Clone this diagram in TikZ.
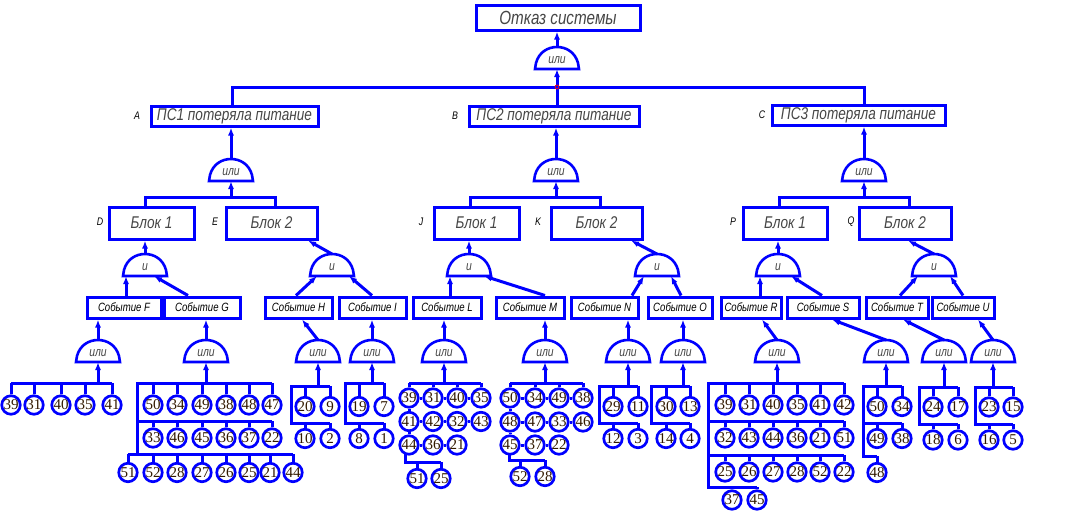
\documentclass[tikz,border=0pt]{standalone}
\usepackage{fontspec}
\setmainfont{Liberation Serif}
\newfontfamily\gost[FakeStretch=0.8]{Liberation Sans}
\usetikzlibrary{arrows.meta}
\definecolor{fb}{RGB}{0,0,255}
\definecolor{tg}{RGB}{70,70,70}
\definecolor{nb}{RGB}{50,25,0}
\newcommand\evrow[4]{\foreach \n/\x in {#4}{\node[ev] (#1\n) at (\x,#3) {\n}; \draw[ln] (#1\n.north) -- (\x,#2);}}
\begin{document}
\begin{tikzpicture}[x=1pt,y=-1pt,
 ln/.style={draw=fb,line width=3pt},
 arr/.style={ln,-{Latex[length=8pt,width=6pt]}},
 box/.style={draw=fb,line width=3pt,fill=white,inner sep=0pt,text=tg,font=\gost\itshape\fontsize{17}{20}\selectfont},
 ebox/.style={draw=fb,line width=3pt,fill=white,inner sep=0pt,minimum height=21pt,text=black,font=\gost\itshape\fontsize{12}{14}\selectfont},
 ev/.style={circle,draw=fb,line width=2.7pt,fill=white,minimum size=18.5pt,inner sep=0pt,text=nb,font=\fontsize{15}{15}\selectfont},
 lbl/.style={text=black,font=\gost\itshape\fontsize{11}{12}\selectfont},
 gate/.pic={\draw[draw=fb,line width=2.6pt,fill=white] (-22,0) -- (-21,-6) .. controls (-18,-17) and (-9,-22) .. (0,-22) .. controls (9,-22) and (18,-17) .. (21,-6) -- (22,0) -- cycle;
   \node[text=tg,font=\gost\itshape\fontsize{13}{14}\selectfont] (-x) at (0,-9) {#1};
   \coordinate (-t) at (0,-22); \coordinate (-b) at (0,0);}
]
\fill[white] (0,0) rectangle (1072,512);
\useasboundingbox (0,0) rectangle (1072,512);

% top
\node[box,minimum width=164pt,minimum height=25pt,font=\gost\itshape\fontsize{19}{22}\selectfont] (top) at (558,17.5) {Отказ системы};
\pic (g0) at (557,69) {gate=или};
\draw[arr] (g0-t) -- (top.south -| g0-t);
\node[box,minimum width=167pt,minimum height=20pt] (ps1) at (234.5,116) {ПС1 потеряла питание};
\node[box,minimum width=170pt,minimum height=20pt] (ps2) at (554,116) {ПС2 потеряла питание};
\node[box,minimum width=173pt,minimum height=20pt] (ps3) at (858.5,115) {ПС3 потеряла питание};
\node[lbl] (lA) at (137,116) {A};
\node[lbl] (lB) at (455,116) {B};
\node[lbl] (lC) at (762,115) {C};
\draw[ln] (ps1.north -| 232,0) -- (232,87) -- (864,87) -- (ps3.north -| 864,0);
\draw[ln] (557,87) -- (ps2.north -| 557,0);
\draw[arr] (557,87) -- (g0-b);
\draw[red,line width=0.8pt] (557,87) circle (2);

% level 2
\pic (gA) at (231,181) {gate=или};
\pic (gB) at (556,181) {gate=или};
\pic (gC) at (864,181) {gate=или};
\draw[arr] (gA-t) -- (ps1.south -| gA-t);
\draw[arr] (gB-t) -- (ps2.south -| gB-t);
\draw[arr] (gC-t) -- (ps3.south -| gC-t);
\node[box,minimum width=85pt,minimum height=32pt] (D) at (151.5,223) {Блок 1};
\node[box,minimum width=91pt,minimum height=32pt] (E) at (271.5,223) {Блок 2};
\node[box,minimum width=85pt,minimum height=32pt] (J) at (476.5,223) {Блок 1};
\node[box,minimum width=91pt,minimum height=32pt] (K) at (596.5,223) {Блок 2};
\node[box,minimum width=84pt,minimum height=32pt] (P) at (785,223) {Блок 1};
\node[box,minimum width=92pt,minimum height=32pt] (Q) at (905,223) {Блок 2};
\node[lbl] (lD) at (100,222) {D};
\node[lbl] (lE) at (215,222) {E};
\node[lbl] (lJ) at (421,222) {J};
\node[lbl] (lK) at (538,222) {K};
\node[lbl] (lP) at (733,222) {P};
\node[lbl] (lQ) at (851,222) {Q};
\draw[ln] (D.north -| 145,0) -- (145,197) -- (275,197) -- (E.north -| 275,0);
\draw[ln] (J.north -| 470,0) -- (470,197) -- (600,197) -- (K.north -| 600,0);
\draw[ln] (P.north -| 779,0) -- (779,197) -- (909,197) -- (Q.north -| 909,0);
\draw[arr] (gA-b |- 0,197) -- (gA-b);
\draw[arr] (gB-b |- 0,197) -- (gB-b);
\draw[arr] (gC-b |- 0,197) -- (gC-b);

% AND gates
\pic (gD) at (145,276) {gate=и};
\pic (gE) at (332,276) {gate=и};
\pic (gJ) at (469,276) {gate=и};
\pic (gK) at (657,276) {gate=и};
\pic (gP) at (778,276) {gate=и};
\pic (gQ) at (934,276) {gate=и};
\draw[arr] (gD-t) -- (D.south -| gD-t);
\draw[arr] (gE-t) -- (E.south -| 308,0);
\draw[arr] (gJ-t) -- (J.south -| gJ-t);
\draw[arr] (gK-t) -- (K.south -| 631,0);
\draw[arr] (gP-t) -- (P.south -| gP-t);
\draw[arr] (gQ-t) -- (Q.south -| 908,0);

% events
\node[ebox,minimum width=74pt] (eF) at (124,307.5) {Событие F};
\node[ebox,minimum width=76pt] (eG) at (202,307.5) {Событие G};
\node[ebox,minimum width=67pt] (eH) at (298.5,307.5) {Событие H};
\node[ebox,minimum width=67pt] (eI) at (372.5,307.5) {Событие I};
\node[ebox,minimum width=68pt] (eL) at (447,307.5) {Событие L};
\node[ebox,minimum width=68pt] (eM) at (530,307.5) {Событие M};
\node[ebox,minimum width=67pt] (eN) at (604.5,307.5) {Событие N};
\node[ebox,minimum width=64pt] (eO) at (680,307.5) {Событие O};
\node[ebox,minimum width=60pt] (eR) at (751,307.5) {Событие R};
\node[ebox,minimum width=72pt] (eS) at (823,307.5) {Событие S};
\node[ebox,minimum width=62pt] (eT) at (897,307.5) {Событие T};
\node[ebox,minimum width=62pt] (eU) at (963,307.5) {Событие U};
\draw[arr] (eF.north -| 126,0) -- (126,276);
\draw[arr] (eG.north -| 188,0) -- (154,276);
\draw[arr] (eH.north -| 296,0) -- (317,276);
\draw[arr] (eI.north -| 372,0) -- (349,276);
\draw[arr] (eL.north -| 450,0) -- (450,276);
\draw[arr] (eM.north -| 545,0) -- (484,276);
\draw[arr] (eN.north -| 632,0) -- (644,276);
\draw[arr] (eO.north -| 681,0) -- (671,276);
\draw[arr] (eR.north -| 760,0) -- (760,276);
\draw[arr] (eS.north -| 822,0) -- (791,276);
\draw[arr] (eT.north -| 900,0) -- (918,276);
\draw[arr] (eU.north -| 963,0) -- (950,276);

% OR gates under events
\pic (gF) at (98,362) {gate=или};
\pic (gG) at (206,362) {gate=или};
\pic (gH) at (318,362) {gate=или};
\pic (gI) at (372,362) {gate=или};
\pic (gL) at (444,362) {gate=или};
\pic (gM) at (545,362) {gate=или};
\pic (gN) at (628,362) {gate=или};
\pic (gO) at (683,362) {gate=или};
\pic (gR) at (777,362) {gate=или};
\pic (gS) at (886,362) {gate=или};
\pic (gT) at (944,362) {gate=или};
\pic (gU) at (993,362) {gate=или};
\draw[arr] (gF-t) -- (eF.south -| gF-t);
\draw[arr] (gG-t) -- (eG.south -| gG-t);
\draw[arr] (gH-t) -- (eH.south -| 302,0);
\draw[arr] (gI-t) -- (eI.south -| gI-t);
\draw[arr] (gL-t) -- (eL.south -| gL-t);
\draw[arr] (gM-t) -- (eM.south -| gM-t);
\draw[arr] (gN-t) -- (eN.south -| gN-t);
\draw[arr] (gO-t) -- (eO.south -| gO-t);
\draw[arr] (gR-t) -- (eR.south -| 762,0);
\draw[arr] (gS-t) -- (eS.south -| 832,0);
\draw[arr] (gT-t) -- (eT.south -| 903,0);
\draw[arr] (gU-t) -- (eU.south -| 978,0);
\draw[arr] (gF-b |- 0,383) -- (gF-b);
\draw[arr] (gG-b |- 0,383) -- (gG-b);
\draw[arr] (gH-b |- 0,386) -- (gH-b);
\draw[arr] (gI-b |- 0,383) -- (gI-b);
\draw[arr] (gL-b |- 0,383) -- (gL-b);
\draw[arr] (gM-b |- 0,383) -- (gM-b);
\draw[arr] (gN-b |- 0,386) -- (gN-b);
\draw[arr] (gO-b |- 0,386) -- (gO-b);
\draw[arr] (gR-b |- 0,383) -- (gR-b);
\draw[arr] (gS-b |- 0,386) -- (gS-b);
\draw[arr] (gT-b |- 0,387) -- (gT-b);
\draw[arr] (gU-b |- 0,387) -- (gU-b);

% basic events: F
\draw[ln] (11,383) -- (112,383);
\evrow{F}{383}{405}{39/11,31/34,40/61,35/85,41/112}
% G
\draw[ln] (272,383) -- (137,383) -- (137,454);
\draw[ln] (137,421) -- (272,421);
\draw[ln] (128,454) -- (293,454);
\evrow{G}{383}{405}{50/153,34/177,49/202,38/226,48/249,47/272}
\evrow{G}{421}{438}{33/153,46/177,45/202,36/226,37/249,22/272}
\evrow{G}{454}{472.5}{51/128,52/153,28/177,27/202,26/226,25/249,21/270,44/293}
% H
\draw[ln] (330,386) -- (291,386) -- (291,423) -- (330,423);
\evrow{H}{386}{406.5}{20/305,9/330}
\evrow{H}{423}{438.5}{10/305,2/330}
% I
\draw[ln] (384,383) -- (345,383) -- (345,423) -- (384,423);
\evrow{I}{383}{406.5}{19/359,7/384}
\evrow{I}{423}{438.5}{8/359,1/384}
% L
\draw[ln] (409,383) -- (481,383);
\draw[ln] (405,452) -- (405,462) -- (441,462);
\evrow{L}{383}{398}{39/409,31/433,40/457,35/481}
\foreach \n/\x in {41/409,42/433,32/457,43/481}{\node[ev] (L\n) at (\x,421.5) {\n};}
\foreach \n/\x in {44/409,36/433,21/457}{\node[ev] (L\n) at (\x,445) {\n};}
\evrow{L}{462}{478.5}{51/417,25/441}
\foreach \a/\b in {39/31,31/40,40/35,41/42,42/32,32/43,44/36,36/21}{\draw[ln] (L\a.east) -- (L\b.west);}
\draw[ln] (L39.south) -- (L41.north); \draw[ln] (L41.south) -- (L44.north);
% M
\draw[ln] (510,383) -- (583,383);
\draw[ln] (509,452) -- (509,460) -- (545,460);
\evrow{M}{383}{398}{50/510,34/535,49/559,38/583}
\foreach \n/\x in {48/510,47/535,33/559,46/583}{\node[ev] (M\n) at (\x,422) {\n};}
\foreach \n/\x in {45/510,37/535,22/559}{\node[ev] (M\n) at (\x,445) {\n};}
\evrow{M}{460}{476.5}{52/520,28/545}
\foreach \a/\b in {50/34,34/49,49/38,48/47,47/33,33/46,45/37,37/22}{\draw[ln] (M\a.east) -- (M\b.west);}
\draw[ln] (M50.south) -- (M48.north); \draw[ln] (M48.south) -- (M45.north);
% N
\draw[ln] (638,386) -- (599,386) -- (599,423) -- (638,423);
\evrow{N}{386}{406.5}{29/613,11/638}
\evrow{N}{423}{438.5}{12/613,3/638}
% O
\draw[ln] (690,386) -- (651,386) -- (651,423) -- (690,423);
\evrow{O}{386}{406.5}{30/666,13/690}
\evrow{O}{423}{438.5}{14/666,4/690}
% R
\draw[ln] (844,383) -- (708,383) -- (708,487) -- (757,487);
\draw[ln] (708,421) -- (844,421);
\draw[ln] (708,455) -- (844,455);
\evrow{R}{383}{405}{39/725,31/749,40/773,35/797,41/820,42/844}
\evrow{R}{421}{438}{32/725,43/749,44/773,36/797,21/820,51/844}
\evrow{R}{455}{472}{25/725,26/749,27/773,28/797,52/820,22/844}
\evrow{R}{487}{500}{37/732,45/757}
% S
\draw[ln] (902,386) -- (863,386) -- (863,456) -- (877,456);
\draw[ln] (863,423) -- (902,423);
\evrow{S}{386}{406.5}{50/877,34/902}
\evrow{S}{423}{438.5}{49/877,38/902}
\evrow{S}{456}{472.5}{48/877}
% T
\draw[ln] (958,387) -- (919,387) -- (919,424) -- (958,424);
\evrow{T}{387}{407}{24/933,17/958}
\evrow{T}{424}{440}{18/933,6/958}
% U
\draw[ln] (1013,387) -- (975,387) -- (975,424) -- (1013,424);
\evrow{U}{387}{407}{23/989,15/1013}
\evrow{U}{424}{440}{16/989,5/1013}
\end{tikzpicture}
\end{document}
